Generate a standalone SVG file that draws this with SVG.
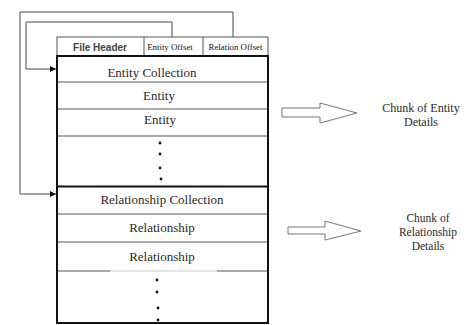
<svg xmlns="http://www.w3.org/2000/svg" width="468" height="325" viewBox="0 0 468 325">
<defs>
<marker id="ah" markerWidth="6" markerHeight="6" refX="6" refY="3" orient="auto" markerUnits="userSpaceOnUse">
<path d="M0,0 L6,3 L0,6 z" fill="#111"/>
</marker>
<style>
.s{font-family:"Liberation Serif",serif;fill:#2a2a2a;text-anchor:middle}
.row{fill:#fff;stroke:#555;stroke-width:1}
.conn{fill:none;stroke:#444;stroke-width:1}
.dot{fill:#111}
.barr{fill:#fff;stroke:#777;stroke-width:1}
</style>
</defs>
<rect width="468" height="325" fill="#fff"/>
<g id="connectors">
<path class="conn" d="M233,37 V12 H20 V194 H56" marker-end="url(#ah)"/>
<path class="conn" d="M172,37 V22 H26 V69 H56" marker-end="url(#ah)"/>
</g>
<g id="header">
<rect class="row" x="57" y="37" width="211" height="19"/>
<line x1="144" y1="37" x2="144" y2="56" stroke="#555"/>
<line x1="203" y1="37" x2="203" y2="56" stroke="#555"/>
<text x="100" y="51" font-family="Liberation Sans, sans-serif" font-size="10" fill="#444" text-anchor="middle" font-weight="bold">File Header</text>
<text class="s" x="170" y="50" font-size="8.8" fill="#111" style="fill:#111">Entity Offset</text>
<text class="s" x="235.5" y="50" font-size="8.8" style="fill:#111">Relation Offset</text>
</g>
<g id="entity-block">
<line x1="57" y1="82" x2="268" y2="82" stroke="#555"/>
<line x1="57" y1="109" x2="268" y2="109" stroke="#555"/>
<line x1="57" y1="136" x2="268" y2="136" stroke="#555"/>
<text class="s" x="152" y="77" font-size="13">Entity Collection</text>
<text class="s" x="159" y="100" font-size="13">Entity</text>
<text class="s" x="160" y="124" font-size="13">Entity</text>
<circle class="dot" cx="160" cy="143" r="1.4"/>
<circle class="dot" cx="160" cy="154" r="1.4"/>
<circle class="dot" cx="160" cy="168" r="1.4"/>
<circle class="dot" cx="161" cy="179" r="1.4"/>
</g>
<g id="relationship-block">
<line x1="57" y1="214" x2="268" y2="214" stroke="#555"/>
<line x1="57" y1="242" x2="268" y2="242" stroke="#555"/>
<line x1="57" y1="271" x2="110" y2="271" stroke="#555"/>
<line x1="110" y1="271" x2="217" y2="271" stroke="#ccc"/>
<line x1="217" y1="271" x2="268" y2="271" stroke="#555"/>
<text class="s" x="162" y="204" font-size="13">Relationship Collection</text>
<text class="s" x="162" y="232" font-size="13">Relationship</text>
<text class="s" x="162" y="261" font-size="13">Relationship</text>
<circle class="dot" cx="157" cy="280" r="1.4"/>
<circle class="dot" cx="157" cy="292" r="1.4"/>
<circle class="dot" cx="158" cy="308" r="1.4"/>
<circle class="dot" cx="158" cy="320" r="1.4"/>
</g>
<g id="outline">
<rect x="57" y="56" width="211" height="267" fill="none" stroke="#111" stroke-width="2"/>
<line x1="57" y1="186.5" x2="268" y2="186.5" stroke="#111" stroke-width="2"/>
</g>
<g id="entity-chunk">
<path class="barr" d="M282,108 H320 V103 L357,113 L320,123 V117 H282 Z"/>
<text class="s" x="421" y="112" font-size="12">Chunk of Entity</text>
<text class="s" x="421" y="126" font-size="12">Details</text>
</g>
<g id="relationship-chunk">
<path class="barr" d="M288,227 H325 V221 L361,231 L325,240 V234 H288 Z"/>
<text class="s" x="428" y="222" font-size="11.5">Chunk of</text>
<text class="s" x="428" y="236" font-size="11.5">Relationship</text>
<text class="s" x="428" y="250" font-size="11.5">Details</text>
</g>
</svg>
